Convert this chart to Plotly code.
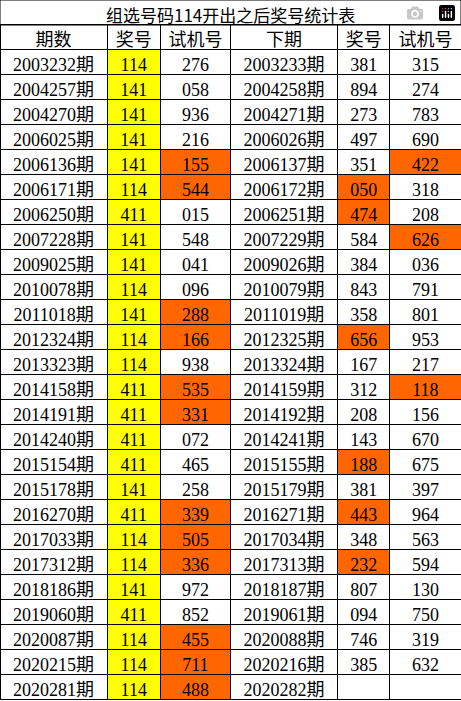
import plotly.graph_objects as go

title = "组选号码114开出之后奖号统计表"
headers = ["期数", "奖号", "试机号", "下期", "奖号", "试机号"]

periods = ["2003232期", "2004257期", "2004270期", "2006025期", "2006136期", "2006171期", "2006250期",
           "2007228期", "2009025期", "2010078期", "2011018期", "2012324期", "2013323期", "2014158期",
           "2014191期", "2014240期", "2015154期", "2015178期", "2016270期", "2017033期", "2017312期",
           "2018186期", "2019060期", "2020087期", "2020215期", "2020281期"]
prizes = ["114", "141", "141", "141", "141", "114", "411", "141", "141", "114", "141", "114", "114",
          "411", "411", "411", "411", "141", "411", "114", "114", "141", "411", "114", "114", "114"]
tests = ["276", "058", "936", "216", "155", "544", "015", "548", "041", "096", "288", "166", "938",
         "535", "331", "072", "465", "258", "339", "505", "336", "972", "852", "455", "711", "488"]
next_periods = ["2003233期", "2004258期", "2004271期", "2006026期", "2006137期", "2006172期", "2006251期",
                "2007229期", "2009026期", "2010079期", "2011019期", "2012325期", "2013324期", "2014159期",
                "2014192期", "2014241期", "2015155期", "2015179期", "2016271期", "2017034期", "2017313期",
                "2018187期", "2019061期", "2020088期", "2020216期", "2020282期"]
next_prizes = ["381", "894", "273", "497", "351", "050", "474", "584", "384", "843", "358", "656", "167",
               "312", "208", "143", "188", "381", "443", "348", "232", "807", "094", "746", "385", ""]
next_tests = ["315", "274", "783", "690", "422", "318", "208", "626", "036", "791", "801", "953", "217",
              "118", "156", "670", "675", "397", "964", "563", "594", "130", "750", "319", "632", ""]

ORANGE = "#ff6600"
YELLOW = "#ffff00"


def hl(vals):
    # repeated digit -> orange
    return [ORANGE if v and len(set(v)) < 3 else "white" for v in vals]


n = len(periods)
fills = [["white"] * n, [YELLOW] * n, hl(tests), ["white"] * n, hl(next_prizes), hl(next_tests)]

font = dict(family="Liberation Serif, Noto Sans CJK SC", size=18, color="black")

fig = go.Figure(go.Table(
    domain=dict(x=[0, 1], y=[0, 1 - 24 / 701]),
    columnwidth=[107, 53, 70, 107, 52, 71],
    header=dict(values=headers, height=25, fill_color="white", align="center",
                line=dict(color="black", width=1), font=font),
    cells=dict(values=[periods, prizes, tests, next_periods, next_prizes, next_tests],
               height=25, fill_color=fills, align="center",
               line=dict(color="black", width=1), font=font),
))

fig.add_annotation(text=title, x=0.5, y=1, xref="paper", yref="paper", yanchor="top",
                   showarrow=False, font=dict(family="Noto Sans CJK SC", size=17, color="black"))
fig.add_shape(type="rect", xref="paper", yref="paper", x0=0, x1=1, y0=1 - 25 / 701, y1=1,
              line=dict(color="black", width=1))

fig.update_layout(width=461, height=701, margin=dict(l=0, r=0, t=0, b=0),
                  paper_bgcolor="white", plot_bgcolor="white")

fig.write_html("out.html", post_script="document.body.style.margin='0';")
